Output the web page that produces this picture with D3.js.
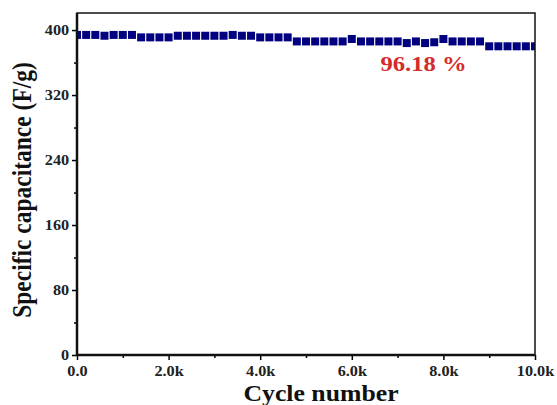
<!DOCTYPE html>
<meta charset="utf-8">
<script src="https://d3js.org/d3.v7.min.js"></script>
<style>
  body { margin: 0; background: #fff; }
  text { font-family: "Liberation Serif", "Times New Roman", serif; font-weight: bold; }
</style>
<div id="chart"></div>
<script>
// cycle number every 200 cycles
var cycles = d3.range(0, 10001, 200);
// specific capacitance (F/g)
var capacitance = [
  394, 394, 394, 393, 394, 394, 394, 391, 391, 391,
  391, 393, 393, 393, 393, 393, 393, 394, 393, 393,
  391, 391, 391, 391, 386, 386, 386, 386, 386, 386,
  389, 386, 386, 386, 386, 386, 384, 386, 384, 385,
  389, 386, 386, 386, 386, 380, 380, 380, 380, 380,
  380
];
var xTicks = [0, 2000, 4000, 6000, 8000, 10000];
var xMinor = [1000, 3000, 5000, 7000, 9000];
var yTicks = [0, 80, 160, 240, 320, 400];
var yMinor = [40, 120, 200, 280, 360];
var retention = "96.18 %";

var W = 557, H = 405;
var margin = {top: 13, right: 22, bottom: 50, left: 77};
var width = W - margin.left - margin.right,
    height = H - margin.top - margin.bottom;
var stretch = "scale(1.12,1)"; // the picture is a bit wider than tall

var svg = d3.select("#chart").append("svg")
    .attr("width", W).attr("height", H);
var g = svg.append("g")
    .attr("transform", "translate(" + margin.left + "," + margin.top + ")");

var x = d3.scaleLinear().domain([0, 10000]).range([0, width]);
var y = d3.scaleLinear().domain([0, 421]).range([height, 0]);

g.append("clipPath").attr("id", "clip")
  .append("rect").attr("width", width).attr("height", height);

// data squares
g.append("g").attr("clip-path", "url(#clip)")
  .selectAll("rect")
  .data(cycles)
  .enter().append("rect")
    .attr("x", function(d) { return x(d) - 4; })
    .attr("y", function(d, i) { return y(capacitance[i]) - 4; })
    .attr("width", 8)
    .attr("height", 8)
    .attr("fill", "#000080");

// axes
var fmtX = function(d) { return d === 0 ? "0.0" : (d / 1000).toFixed(1) + "k"; };
g.append("g").attr("transform", "translate(0," + height + ")")
  .call(d3.axisBottom(x).tickValues(xTicks).tickFormat(fmtX).tickSize(5).tickPadding(6));
g.append("g").attr("transform", "translate(0," + height + ")")
  .call(d3.axisBottom(x).tickValues(xMinor).tickFormat("").tickSize(3))
  .select(".domain").remove();
g.append("g")
  .call(d3.axisLeft(y).tickValues(yTicks).tickSize(5).tickPadding(2));
g.append("g")
  .call(d3.axisLeft(y).tickValues(yMinor).tickFormat("").tickSize(3))
  .select(".domain").remove();

g.selectAll(".domain").attr("stroke-width", 2).attr("d", null);
g.selectAll(".tick line").attr("stroke-width", 1.5);
g.selectAll(".tick text")
  .attr("font-size", 14.5)
  .attr("fill", "#222")
  .attr("transform", stretch)
  .style("font-family", "'Liberation Serif', serif")
  .style("font-weight", "bold");

// frame
g.append("rect")
  .attr("width", width).attr("height", height)
  .attr("fill", "none").attr("stroke", "#111").attr("stroke-width", 1.5);
g.append("line").attr("x1", 0).attr("x2", 0).attr("y1", 0).attr("y2", height)
  .attr("stroke", "#111").attr("stroke-width", 2.5);
g.append("line").attr("x1", 0).attr("x2", width).attr("y1", height).attr("y2", height)
  .attr("stroke", "#111").attr("stroke-width", 2.5);

// labels
svg.append("text")
  .attr("transform", "translate(31,190) scale(1.15,1) rotate(-90)")
  .attr("text-anchor", "middle")
  .attr("font-size", 23.5)
  .attr("fill", "#111")
  .text("Specific capacitance (F/g)");
svg.append("text")
  .attr("transform", "translate(321,401) " + stretch)
  .attr("text-anchor", "middle")
  .attr("font-size", 23)
  .attr("fill", "#111")
  .text("Cycle number");

g.append("text")
  .attr("transform", "translate(" + (x(7500) + 3) + ",58) " + stretch)
  .attr("text-anchor", "middle")
  .attr("font-size", 22)
  .attr("fill", "#d42b2b")
  .text(retention);
</script>
